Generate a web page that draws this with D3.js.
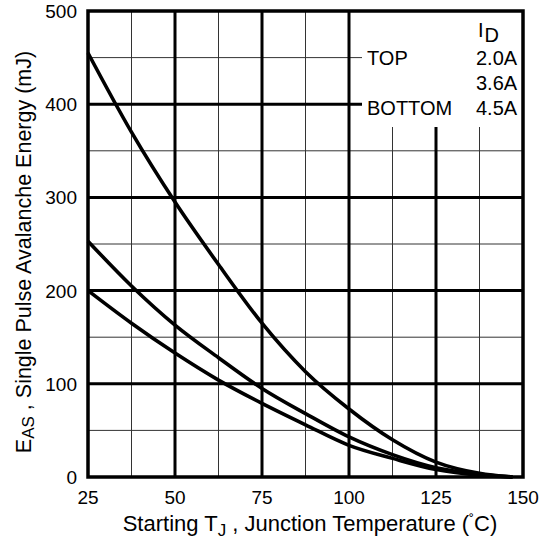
<!DOCTYPE html>
<html>
<head>
<meta charset="utf-8">
<script src="https://cdn.jsdelivr.net/npm/d3@7"></script>
<style>
  body { margin: 0; background: #fff; }
  text { font-family: "Liberation Sans", Arial, sans-serif; fill: #000; }
</style>
</head>
<body>
<div id="chart"></div>
<script>
    // junction temperature (C)
    var tempC = [25, 37.5, 50, 62.5, 75, 87.5, 100, 112.5, 125, 137.5, 147];
    // energy curves (mJ), one per drain current
    var eas20 = [455, 370, 295, 228, 165, 113, 73, 40, 16, 4, 0];
    var eas36 = [253, 205, 163, 128, 95, 68, 43, 24, 10, 3, 0];
    var eas45 = [200, 165, 133, 104, 79, 56, 34, 20, 8, 2, 0];
    var seriesNames = ["TOP", "", "BOTTOM"];
    var seriesLabels = ["2.0A", "3.6A", "4.5A"];

    var xTicks = [25, 50, 75, 100, 125, 150];
    var xMinor = [37.5, 62.5, 87.5, 112.5, 137.5];
    var yTicks = [0, 100, 200, 300, 400, 500];
    var yMinor = [50, 150, 250, 350, 450];

    var width = 546,
        height = 542,
        pL = 88, pT = 11, pR = 523, pB = 477;

    var x = d3.scaleLinear().domain([25, 150]).range([pL, pR]);
    var y = d3.scaleLinear().domain([0, 500]).range([pB, pT]);

    var svg = d3.select("#chart").append("svg")
        .attr("width", width)
        .attr("height", height);

    // grid
    var grid = svg.append("g");
    grid.selectAll(".vmin").data(xMinor).enter().append("line")
        .attr("x1", d => x(d)).attr("x2", d => x(d))
        .attr("y1", pT).attr("y2", pB)
        .attr("stroke", "#333").attr("stroke-width", 1);
    grid.selectAll(".hmin").data(yMinor).enter().append("line")
        .attr("y1", d => y(d)).attr("y2", d => y(d))
        .attr("x1", pL).attr("x2", pR)
        .attr("stroke", "#333").attr("stroke-width", 1);
    grid.selectAll(".vmaj").data(xTicks.slice(1, -1)).enter().append("line")
        .attr("x1", d => x(d)).attr("x2", d => x(d))
        .attr("y1", pT).attr("y2", pB)
        .attr("stroke", "#000").attr("stroke-width", 3);
    grid.selectAll(".hmaj").data(yTicks.slice(1, -1)).enter().append("line")
        .attr("y1", d => y(d)).attr("y2", d => y(d))
        .attr("x1", pL).attr("x2", pR)
        .attr("stroke", "#000").attr("stroke-width", 3);

    // legend box hides the grid behind it
    svg.append("rect")
        .attr("x", 362).attr("y", pT).attr("width", pR - 362).attr("height", 127 - pT)
        .attr("fill", "#fff");

    // curves
    var line = d3.line()
        .x(d => x(d[0]))
        .y(d => y(d[1]))
        .curve(d3.curveMonotoneX);
    [eas20, eas36, eas45].forEach(function(s) {
        svg.append("path")
            .attr("d", line(tempC.map((t, i) => [t, s[i]])))
            .attr("fill", "none")
            .attr("stroke", "#000")
            .attr("stroke-width", 3.6);
    });

    // frame
    svg.append("rect")
        .attr("x", pL).attr("y", pT)
        .attr("width", pR - pL).attr("height", pB - pT)
        .attr("fill", "none").attr("stroke", "#000").attr("stroke-width", 3.5);

    // legend text
    var lg = svg.append("g").attr("font-size", "20px");
    var idT = lg.append("text").attr("x", 478).attr("y", 37);
    idT.append("tspan").text("I");
    idT.append("tspan").attr("dy", 5).attr("dx", 1).text("D");
    seriesLabels.forEach(function(l, i) {
        lg.append("text").attr("x", 367).attr("y", 65 + i * 25).text(seriesNames[i]);
        lg.append("text").attr("x", 476).attr("y", 65 + i * 25).text(l);
    });

    // tick labels
    svg.append("g").selectAll("text").data(xTicks).enter().append("text")
        .attr("x", d => x(d)).attr("y", 504)
        .attr("text-anchor", "middle").attr("font-size", "19px")
        .text(d => d);
    svg.append("g").selectAll("text").data(yTicks).enter().append("text")
        .attr("x", 77).attr("y", d => y(d) + 7)
        .attr("text-anchor", "end").attr("font-size", "19px")
        .text(d => d);

    // axis titles
    var xt = svg.append("text")
        .attr("x", 310).attr("y", 531)
        .attr("text-anchor", "middle").attr("font-size", "22px");
    xt.append("tspan").text("Starting T");
    xt.append("tspan").attr("dy", 5).attr("font-size", "17px").text("J");
    xt.append("tspan").attr("dy", -5).text(" , Junction Temperature (");
    xt.append("tspan").attr("dy", -6).attr("font-size", "15px").text("\u02da");
    xt.append("tspan").attr("dy", 6).text("C)");

    var yt = svg.append("text")
        .attr("transform", "translate(31,252) rotate(-90)")
        .attr("text-anchor", "middle").attr("font-size", "21.5px");
    yt.append("tspan").text("E");
    yt.append("tspan").attr("dy", 3).attr("font-size", "17px").text("AS");
    yt.append("tspan").attr("dy", -3).text(" , Single Pulse Avalanche Energy (mJ)");
</script>
</body>
</html>
